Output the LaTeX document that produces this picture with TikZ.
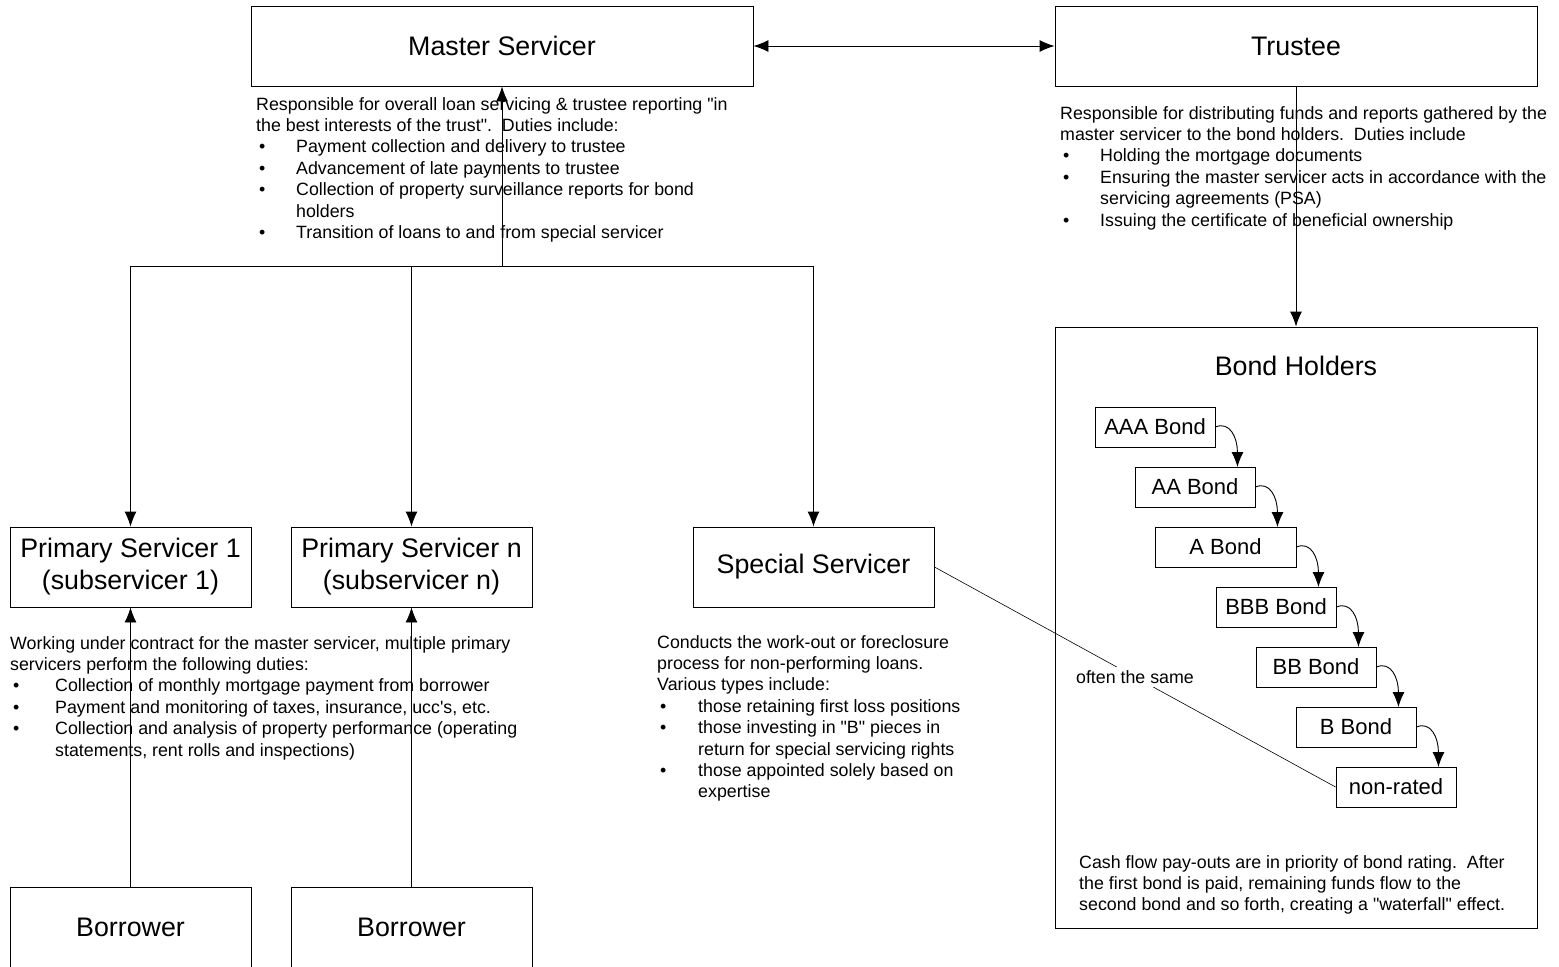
\documentclass[tikz,border=0pt]{standalone}
\usepackage{fontspec}
\setmainfont{Liberation Sans}[Ligatures=TeXOff]
\usetikzlibrary{arrows.meta,calc}
\newcommand{\itm}[1][40pt]{\hspace*{3pt}\makebox[\dimexpr#1-3pt][l]{\textbullet}\ignorespaces}
\newcommand{\ind}[1][40pt]{\hspace*{#1}\ignorespaces}
\tikzset{>={Latex[length=15pt,width=12pt]},
    box/.style={draw, line width=0.9pt, minimum width=241pt, minimum height=80pt,
        inner sep=0pt, align=center, font=\fontsize{26.8}{32}\selectfont},
    bond/.style={draw, line width=0.9pt, minimum width=120pt, minimum height=40pt,
        inner sep=0pt, font=\fontsize{22}{26}\selectfont},
    note/.style={anchor=north west, inner sep=0pt, align=left,
        font=\fontsize{17.8}{21.4}\selectfont},
    arr/.style={->, line width=0.9pt},
    }

\begin{document}
\begin{tikzpicture}[x=1pt,y=1pt]
	\useasboundingbox (0,0) rectangle (1559,-967);
	\clip (0,0) rectangle (1559,-967);
	\node[box, minimum width=502pt] (ms) at (502,-46) {Master Servicer};
	\node[box, minimum width=482pt] (tr) at (1296,-46) {Trustee};
	\node[box] (ps1) at (130.5,-567) {Primary Servicer 1\\(subservicer 1)};
	\node[box] (psn) at (411.5,-567) {Primary Servicer n\\(subservicer n)};
	\node[box] (ss) at (813.5,-567) {Special Servicer};
	\node[box] (bor1) at (130.5,-927) {Borrower};
	\node[box] (bor2) at (411.5,-927) {Borrower};
	\node[draw, line width=0.9pt, minimum width=482pt, minimum height=601pt] (bh) at (1296,-627.5) {};
	\node[font=\fontsize{26.8}{30}\selectfont] (bht) at (1296,-366) {Bond Holders};
	% bonds
	\node[bond] (aaa) at (1155,-427) {AAA Bond};
	\node[bond] (aa) at (1195,-487) {AA Bond};
	\node[bond, minimum width=141pt] (a) at (1225.5,-547) {A Bond};
	\node[bond] (bbb) at (1276,-607) {BBB Bond};
	\node[bond] (bb) at (1316,-667) {BB Bond};
	\node[bond] (b) at (1356,-727) {B Bond};
	\node[bond] (nr) at (1396,-787) {non-rated};
	% notes
	\node[note] (msnote) at (256,-97) {Responsible for overall loan servicing \& trustee reporting "in\\
		the best interests of the trust".\ \ Duties include:\\
		\itm Payment collection and delivery to trustee\\
		\itm Advancement of late payments to trustee\\
		\itm Collection of property surveillance reports for bond\\
		\ind holders\\
		\itm Transition of loans to and from special servicer};
	\node[note] (trnote) at (1060,-106) {Responsible for distributing funds and reports gathered by the\\
		master servicer to the bond holders.\ \ Duties include\\
		\itm Holding the mortgage documents\\
		\itm Ensuring the master servicer acts in accordance with the\\
		\ind servicing agreements (PSA)\\
		\itm Issuing the certificate of beneficial ownership};
	\node[note] (psnote) at (10,-636) {Working under contract for the master servicer, multiple primary\\
		servicers perform the following duties:\\
		\itm[45pt] Collection of monthly mortgage payment from borrower\\
		\itm[45pt] Payment and monitoring of taxes, insurance, ucc's, etc.\\
		\itm[45pt] Collection and analysis of property performance (operating\\
		\ind[45pt] statements, rent rolls and inspections)};
	\node[note] (ssnote) at (657,-635) {Conducts the work-out or foreclosure\\
		process for non-performing loans.\\
		Various types include:\\
		\itm[41pt] those retaining first loss positions\\
		\itm[41pt] those investing in "B" pieces in\\
		\ind[41pt] return for special servicing rights\\
		\itm[41pt] those appointed solely based on\\
		\ind[41pt] expertise};
	\node[note] (bhnote) at (1079,-855) {Cash flow pay-outs are in priority of bond rating.\ \ After\\
		the first bond is paid, remaining funds flow to the\\
		second bond and so forth, creating a "waterfall" effect.};
	% connectors
	\coordinate (bus) at (502,-266);
	\draw[arr, <->] (ms.east) -- (tr.west);
	\draw[arr] (bus) -- (ms.south);
	\draw[arr] (bus) -| (ps1.north);
	\draw[arr] (bus) -| (psn.north);
	\draw[arr] (bus) -| (ss.north);
	\draw[arr] (bor1.north) -- (ps1.south);
	\draw[arr] (bor2.north) -- (psn.south);
	\draw[arr] (tr.south) -- (bh.north);
	\draw[line width=0.6pt] (ss.east) -- node[fill=white, inner sep=3pt,
		font=\fontsize{17.8}{21.4}\selectfont] (same) {often the same} (nr.west);
	\foreach \p/\q in {aaa/aa, aa/a, a/bbb, bbb/bb, bb/b, b/nr}
		\draw[arr] (\p.east) .. controls +(14,6) and +(0,30) .. ($(\p.east)+(22,-40)$);
\end{tikzpicture}
\end{document}
